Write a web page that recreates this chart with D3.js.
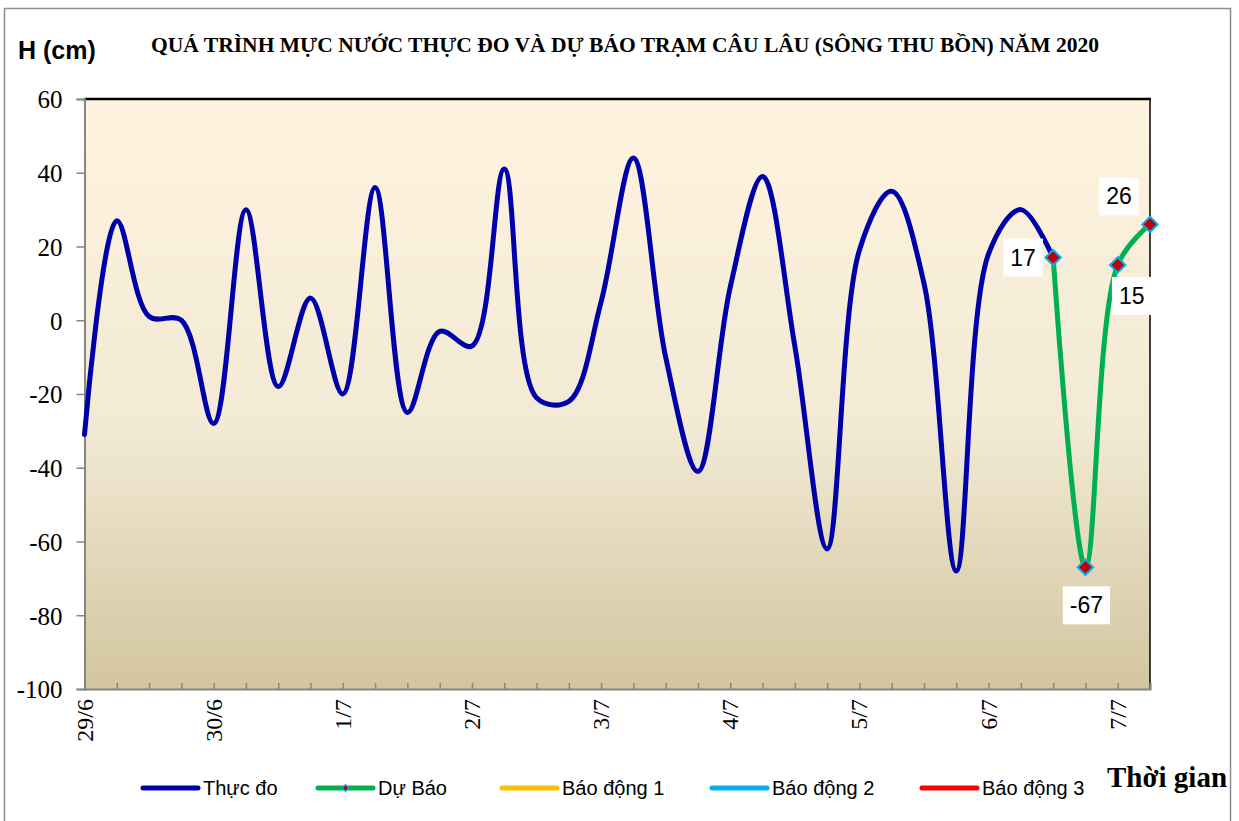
<!DOCTYPE html>
<html>
<head>
<meta charset="utf-8">
<script src="https://cdn.jsdelivr.net/npm/d3@7"></script>
<style>
  html, body { margin: 0; padding: 0; background: #ffffff; }
  svg { display: block; }
</style>
</head>
<body>
<svg id="chart" width="1239" height="821"></svg>
<script>
// ---------------- data ----------------
const dayLabels = ["29/6", "30/6", "1/7", "2/7", "3/7", "4/7", "5/7", "6/7", "7/7"];
const stepsPerDay = 4; // 6-hour observations
const observed = [-31, 27, 1, 0, -28, 30, -18, 6, -20, 36, -25, -3, -7, 41, -21, -22, 5, 44, -10, -41, 9, 39, -7, -62, 19, 35, 10, -68, 18, 30, 17];
const forecastStart = 30;
const forecast = [17, -67, 15, 26];
const yTicks = [-100, -80, -60, -40, -20, 0, 20, 40, 60];
const seriesNames = ["Thực đo", "Dự Báo", "Báo động 1", "Báo động 2", "Báo động 3"];
const seriesColors = ["#0000AA", "#00B050", "#FFC000", "#00B0F0", "#FF0000"];
const titleText = "QUÁ TRÌNH MỰC NƯỚC THỰC ĐO VÀ DỰ BÁO TRẠM CÂU LÂU (SÔNG THU BỒN) NĂM  2020";

// ---------------- layout ----------------
const SERIF = "'Liberation Serif', 'Times New Roman', serif";
const SANS = "'Liberation Sans', Arial, sans-serif";
const svg = d3.select("#chart");
const L = 84.5, R = 1150, T = 99, B = 689;
const nPoints = forecastStart + forecast.length; // 34
const x = d3.scaleLinear().domain([0, nPoints - 1]).range([L, R]);
const y = d3.scaleLinear().domain([-100, 60]).range([B, T]);
const fmt = v => String(v);

// outer border
svg.append("rect").attr("x", 4.5).attr("y", 8.5).attr("width", 1226).attr("height", 830)
  .attr("fill", "none").attr("stroke", "#8c8c8c").attr("stroke-width", 1.5);

// gradient plot background
const defs = svg.append("defs");
const grad = defs.append("linearGradient").attr("id", "bg").attr("x1", 0).attr("y1", 0).attr("x2", 0).attr("y2", 1);
grad.append("stop").attr("offset", "0%").attr("stop-color", "#FEF3DE");
grad.append("stop").attr("offset", "55%").attr("stop-color", "#F2EAD5");
grad.append("stop").attr("offset", "100%").attr("stop-color", "#D3C59F");
svg.append("rect").attr("x", L).attr("y", T).attr("width", R - L).attr("height", B - T).attr("fill", "url(#bg)");

// plot border (top / right black)
svg.append("line").attr("x1", L).attr("x2", R + 1).attr("y1", T).attr("y2", T).attr("stroke", "#000").attr("stroke-width", 2.5);
svg.append("line").attr("x1", R).attr("x2", R).attr("y1", T).attr("y2", B).attr("stroke", "#000").attr("stroke-width", 1.5);

// y axis
const yAxis = svg.append("g").attr("transform", `translate(${L},0)`)
  .call(d3.axisLeft(y).tickValues(yTicks).tickSize(8).tickPadding(14).tickFormat(fmt));
yAxis.attr("font-family", SERIF).attr("font-size", 25);
yAxis.select(".domain").attr("stroke", "#868686").attr("stroke-width", 2);
yAxis.selectAll(".tick line").attr("stroke", "#868686").attr("stroke-width", 1.5);
yAxis.selectAll(".tick text").style("font-family", SERIF).style("font-size", "25px")
  .attr("fill", "#000").attr("dy", "0.35em");

// x axis (ticks inside, pointing up)
const xAxis = svg.append("g").attr("transform", `translate(0,${B})`)
  .call(d3.axisTop(x).tickValues(d3.range(1, nPoints)).tickSize(6).tickFormat(""));
xAxis.select(".domain").attr("stroke", "#868686").attr("stroke-width", 2);
xAxis.selectAll(".tick line").attr("stroke", "#868686").attr("stroke-width", 1.5);

// x labels (rotated)
svg.append("g").selectAll("text").data(dayLabels).join("text")
  .attr("transform", (d, i) => `translate(${x(i * stepsPerDay) + 8},${B + 10}) rotate(-90)`)
  .attr("text-anchor", "end")
  .style("font-family", SERIF).style("font-size", "24px").attr("fill", "#000")
  .text(d => d);

// lines
const curve = d3.curveCatmullRom.alpha(0.5);
const line = d3.line().x(d => x(d.i)).y(d => y(d.v)).curve(curve);
const obsData = observed.map((v, i) => ({ i, v }));
const fcData = forecast.map((v, k) => ({ i: forecastStart + k, v }));

svg.append("path").datum(obsData).attr("d", line)
  .attr("fill", "none").attr("stroke", seriesColors[0]).attr("stroke-width", 5).attr("stroke-linejoin", "round").attr("stroke-linecap", "round");
svg.append("path").datum(fcData).attr("d", line)
  .attr("fill", "none").attr("stroke", seriesColors[1]).attr("stroke-width", 5).attr("stroke-linejoin", "round").attr("stroke-linecap", "round");

// markers
const diamondType = d3.symbolDiamond2 || d3.symbolSquare;
const diamond = d3.symbol().type(diamondType).size(150);
svg.append("g").selectAll("path").data(fcData).join("path")
  .attr("transform", d => `translate(${x(d.i)},${y(d.v)}) rotate(${d3.symbolDiamond2 ? 0 : 45})`)
  .attr("d", diamond)
  .attr("fill", "#C00000").attr("stroke", "#00B0F0").attr("stroke-width", 2);

// data labels
const labelOffsets = [[-30, 0], [1, 38], [14, 31], [-31, -28]];
const lblG = svg.append("g");
fcData.forEach((d, k) => {
  const cx = x(d.i) + labelOffsets[k][0], cy = y(d.v) + labelOffsets[k][1];
  const t = lblG.append("text").attr("x", cx).attr("y", cy).attr("dy", "0.35em")
    .attr("text-anchor", "middle").style("font-family", SANS)
    .style("font-size", "23px").attr("fill", "#000").text(fmt(d.v));
  const bb = t.node().getBBox();
  lblG.insert("rect", "text").attr("x", bb.x - 7).attr("y", cy - 19).attr("width", bb.width + 14).attr("height", 38).attr("fill", "#fff");
});

// titles
svg.append("text").attr("x", 18).attr("y", 59)
  .style("font-family", SANS).style("font-weight", "bold").style("font-size", "25px")
  .text("H (cm)");
svg.append("text").attr("x", 151).attr("y", 52)
  .style("font-family", SERIF).style("font-weight", "bold").style("font-size", "21px")
  .attr("textLength", 948).attr("lengthAdjust", "spacingAndGlyphs")
  .text(titleText);
svg.append("text").attr("x", 1107).attr("y", 787)
  .style("font-family", SERIF).style("font-weight", "bold").style("font-size", "29px")
  .text("Thời gian");

// legend
const legendX = [143, 318, 502, 712, 922];
const legend = svg.append("g");
seriesNames.forEach((name, k) => {
  const lx = legendX[k], ly = 788;
  legend.append("line").attr("x1", lx).attr("x2", lx + 55).attr("y1", ly).attr("y2", ly)
    .attr("stroke", seriesColors[k]).attr("stroke-width", 5).attr("stroke-linecap", "round");
  if (k === 1) {
    legend.append("path").attr("transform", `translate(${lx + 27.5},${ly})`)
      .attr("d", d3.symbol().type(diamondType).size(30))
      .attr("fill", "#C00000").attr("stroke", "#00B0F0").attr("stroke-width", 1.2);
  }
  legend.append("text").attr("x", lx + 60).attr("y", ly).attr("dy", "0.35em")
    .style("font-family", SANS).style("font-size", "20px").attr("fill", "#000")
    .text(name);
});
</script>
</body>
</html>
